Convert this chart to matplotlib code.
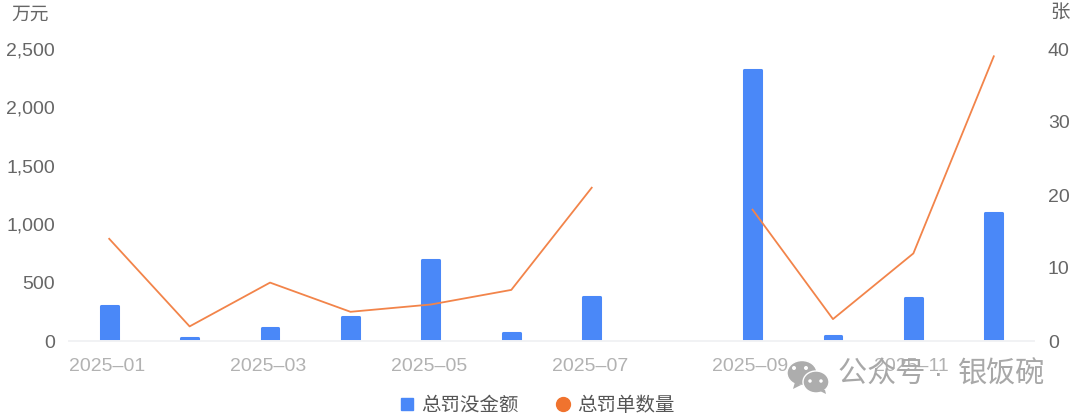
import numpy as np
import matplotlib
matplotlib.use('Agg')
import matplotlib.pyplot as plt
from matplotlib.lines import Line2D
from matplotlib.patches import Ellipse, Polygon
from matplotlib.transforms import ScaledTranslation

plt.rcParams['font.family'] = ['Liberation Sans', 'Noto Sans CJK SC', 'DejaVu Sans']

months = ['2025-01', '2025-02', '2025-03', '2025-04', '2025-05', '2025-06',
          '2025-07', '2025-08', '2025-09', '2025-10', '2025-11', '2025-12']
tick_labels = ['2025–01', '', '2025–03', '', '2025–05', '',
               '2025–07', '', '2025–09', '', '2025–11', '']
amount = [300, 25, 115, 205, 695, 70, 380, np.nan, 2320, 45, 370, 1095]
tickets = [14, 2, 8, 4, 5, 7, 21, np.nan, 18, 3, 12, 39]
left_ticks = [0, 500, 1000, 1500, 2000, 2500]
right_ticks = [0, 10, 20, 30, 40]

W, H = 1080, 418
fig = plt.figure(figsize=(W / 100, H / 100), dpi=100)
ax1 = fig.add_axes([69 / W, 1 - 341 / H, (1034 - 69) / W, 292 / H])
ax2 = ax1.twinx()

x = np.arange(len(months))

# edge with round joins gives the little rounded bar tops
ax1.bar(x, amount, width=0.21, color='#4a88f8', edgecolor='#4a88f8',
        linewidth=2.2, joinstyle='round')
ax1.set_xlim(-0.5, 11.5)
ax1.set_ylim(0, 2500)
ax1.set_xticks(x)
ax1.set_xticklabels(tick_labels, fontsize=14, color='#b2b2b2')
ax1.set_yticks(left_ticks)
ax1.set_yticklabels([f'{v:,}' for v in left_ticks], fontsize=14, color='#666666')
ax1.tick_params(axis='x', length=0, pad=12)
ax1.tick_params(axis='y', length=0, pad=10)

# x labels sit a touch left of the bars in the original
shift = ScaledTranslation(-2 / 100, 0, fig.dpi_scale_trans)
for lab in ax1.get_xticklabels():
    lab.set_transform(lab.get_transform() + shift)

ax2.plot(x, tickets, color='#f2844a', linewidth=1.3)
ax2.set_ylim(0, 40)
ax2.set_yticks(right_ticks)
ax2.set_yticklabels([str(v) for v in right_ticks], fontsize=14, color='#666666')
ax2.tick_params(axis='y', length=0, pad=10)

for ax in (ax1, ax2):
    for side in ('top', 'left', 'right'):
        ax.spines[side].set_visible(False)
    ax.spines['bottom'].set_color('#f1f2f4')
    ax.spines['bottom'].set_linewidth(1.2)

# units
fig.text(11 / W, 1 - 15 / H, '万元', fontsize=13.5, color='#666666', va='center', ha='left')
fig.text(1050 / W, 1 - 14 / H, '张', fontsize=14, color='#666666', va='center', ha='left')

# legend
handles = [Line2D([], [], linestyle='none', marker='s', markersize=9, color='#4a88f8'),
           Line2D([], [], linestyle='none', marker='o', markersize=10, color='#f0732e')]
fig.legend(handles, ['总罚没金额', '总罚单数量'], ncol=2, frameon=False, fontsize=14,
           labelcolor='#555555', loc='center', bbox_to_anchor=(536 / W, 1 - 406 / H),
           handletextpad=0.2, columnspacing=1.8, handlelength=1.0)

# watermark
fig.text(838 / W, 1 - 375 / H, '公众号 ·', fontsize=21, color='#a8a8a8',
         va='center', ha='left', zorder=10)
fig.text(958 / W, 1 - 375 / H, '银饭碗', fontsize=21, color='#a8a8a8',
         va='center', ha='left', zorder=10)


def px(xp, yp):
    return (xp / W, 1 - yp / H)


def bubble(cx, cy, w, h, tail):
    xy = px(cx, cy)
    fig.add_artist(Ellipse(xy, w / W, h / H, facecolor='#adadad', edgecolor='white',
                           linewidth=1, transform=fig.transFigure, zorder=11))
    fig.add_artist(Polygon([px(*p) for p in tail], closed=True, facecolor='#adadad',
                           edgecolor='none', transform=fig.transFigure, zorder=11))


bubble(802, 373, 30, 25, [(795, 382), (801, 385), (793, 389)])
bubble(816, 382, 26, 22, [(818, 390), (825, 390), (826, 394)])
for dx, dy, d in [(794, 368, 4), (806, 368, 4), (810, 381, 3.5), (821, 381, 3.5)]:
    fig.add_artist(Ellipse(px(dx, dy), d / W, d / H, facecolor='white', edgecolor='none',
                           transform=fig.transFigure, zorder=12))

fig.savefig('out.png', dpi=100)
